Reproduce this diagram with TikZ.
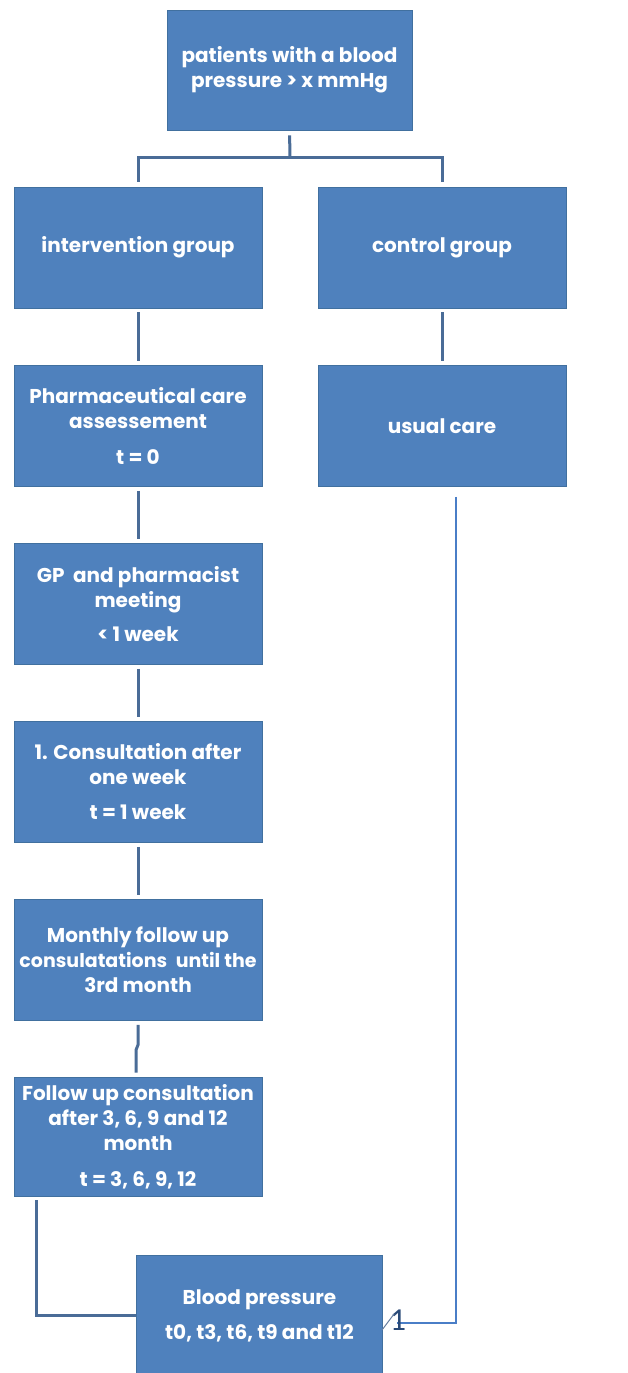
\documentclass[tikz,border=0pt]{standalone}
\usepackage{fontspec}
\setmainfont{Poppins}
\newfontfamily\onefont{Carlito}
\definecolor{boxfill}{HTML}{4F81BD}
\definecolor{boxedge}{HTML}{41709F}
\definecolor{conncol}{HTML}{4A6C97}
\definecolor{thincol}{HTML}{4A7EC7}
\definecolor{onecol}{HTML}{2A4A78}
\begin{document}
\begin{tikzpicture}[x=1pt,y=-1pt,
  flowbox/.style={rectangle, fill=boxfill, draw=boxedge, line width=0.8pt,
    minimum width=248pt, minimum height=121pt, inner sep=0pt,
    text=white, align=center, font=\fontsize{20}{25}\selectfont\bfseries},
  conn/.style={draw=conncol, line width=3pt},
  thinline/.style={draw=thincol, line width=1.5pt}]
\useasboundingbox (0,0) rectangle (627,1373);
\fill[white] (0,0) rectangle (627,1373);

\node[flowbox, minimum width=245pt, minimum height=120pt] (top) at (289.5,70) {patients with a blood\\pressure > x mmHg};
\node[flowbox] (int) at (138,247.5) {intervention group};
\node[flowbox] (ctrl) at (442,247.5) {control group};
\node[flowbox] (pharma) at (138,426) {Pharmaceutical care\\assessement\\[11pt]t = 0};
\node[flowbox] (usual) at (442,426) {usual care};
\node[flowbox] (gp) at (138,604) {GP\ \ and pharmacist\\meeting\\[9pt]< 1 week};
\node[flowbox] (cons) at (138,782) {1. Consultation after\\one week\\[10pt]t = 1 week};
\node[flowbox] (monthly) at (138,960) {Monthly follow up\\{\fontsize{19}{25}\selectfont consulatations\hspace{0.45em}until the}\\3rd month};
\node[flowbox, minimum height=119pt] (follow) at (138,1136.5) {Follow up consultation\\after 3, 6, 9 and 12\\month\\[11pt]t = 3, 6, 9, 12};
\node[flowbox, minimum width=246pt] (bp) at (259.5,1315.5) {Blood pressure\\[10pt]t0, t3, t6, t9 and t12};

\coordinate (fk) at (290,157);
\draw[conn, shorten <=5pt] (top.south) -- (fk);
\draw[conn, shorten <=5pt, shorten >=5pt] (int.north) |- (fk) -| (ctrl.north);
\draw[conn, shorten <=4pt, shorten >=4pt] (int.south) -- (pharma.north);
\draw[conn, shorten <=4pt, shorten >=4pt] (ctrl.south) -- (usual.north);
\draw[conn, shorten <=4pt, shorten >=4pt] (pharma.south) -- (gp.north);
\draw[conn, shorten <=4pt, shorten >=4pt] (gp.south) -- (cons.north);
\draw[conn, shorten <=4pt, shorten >=4pt] (cons.south) -- (monthly.north);
\draw[conn] ([yshift=-4pt]monthly.south) -- ++(0,20) -- ++(-2,5) -- ([xshift=-2pt,yshift=4pt]follow.north);
\draw[conn, shorten <=4pt] ([xshift=23pt]follow.south west) |- (bp.west);

\coordinate (oneend) at (397,1323);
\draw[thinline] ([xshift=14pt,yshift=-10pt]usual.south) |- (oneend);
\node[text=onecol, font=\onefont\fontsize{32}{32}\selectfont, inner sep=0pt] (one) at (398,1320) {1};
\coordinate (slA) at (382,1330);
\coordinate (slB) at (394,1314);
\draw[draw=onecol!70, line width=1pt] (slA) -- (slB);
\end{tikzpicture}
\end{document}
